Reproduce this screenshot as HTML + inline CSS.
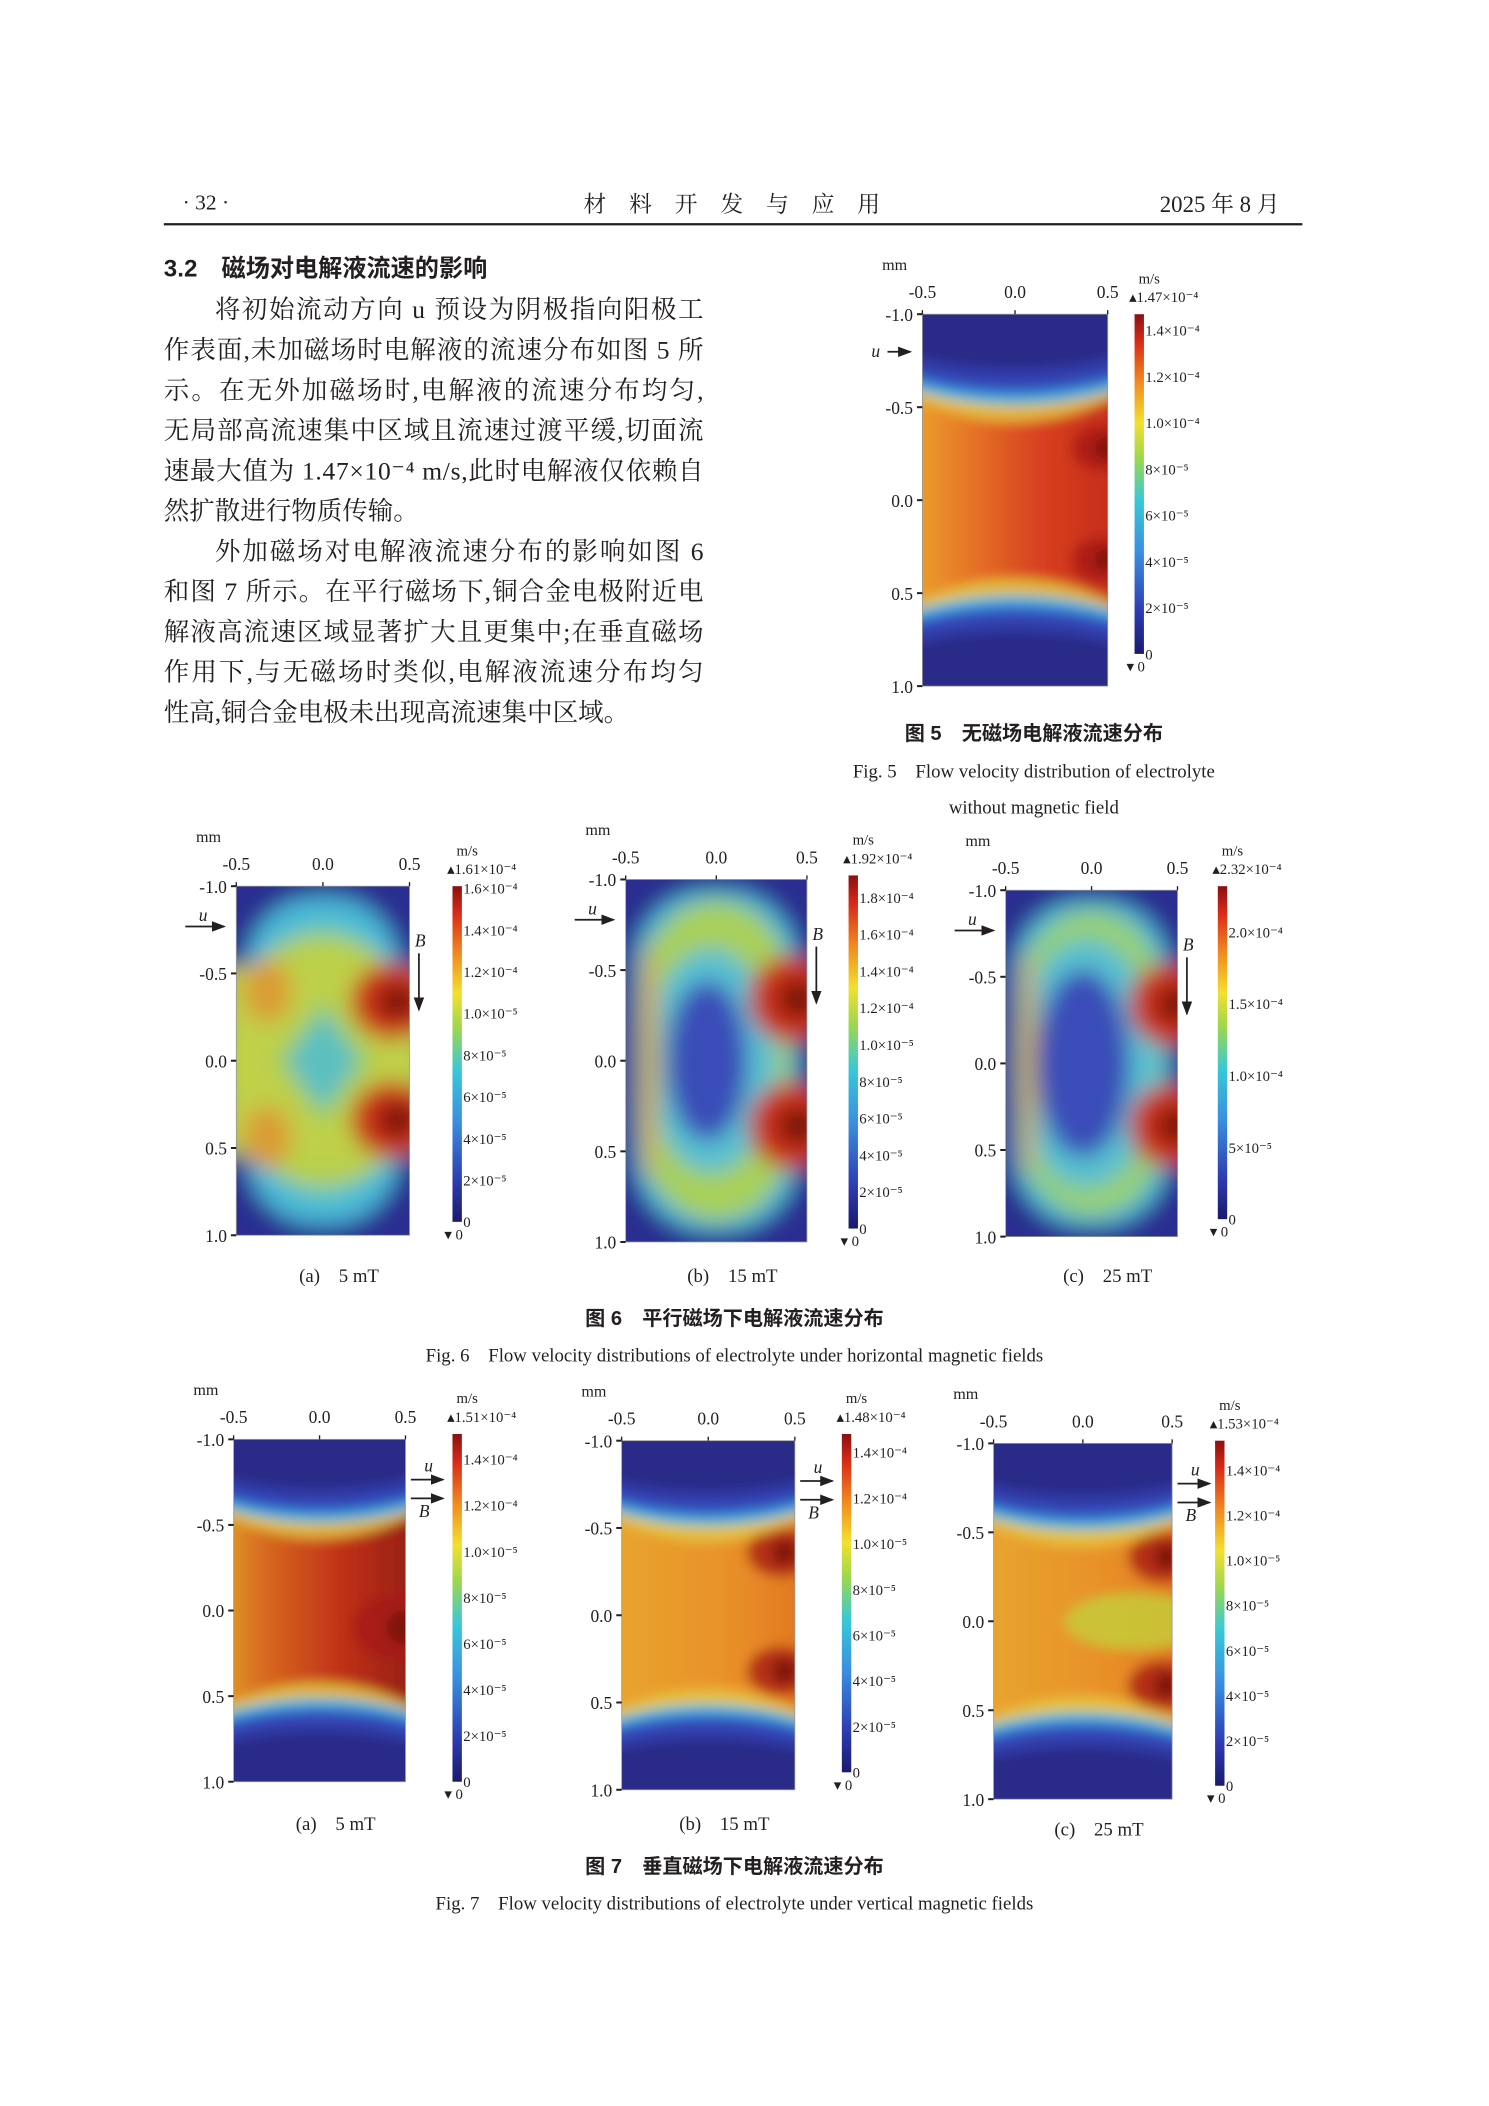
<!DOCTYPE html>
<html><head><meta charset="utf-8"><style>
html,body{margin:0;padding:0;background:#fff;}
svg{display:block;}
text{font-family:"Liberation Serif","Noto Serif CJK SC","Noto Sans CJK SC",serif;fill:#231f20;}
.cn{font-family:"Liberation Serif","Noto Serif CJK SC",serif;}
.hd{font-family:"Liberation Sans","Noto Sans CJK SC",sans-serif;font-weight:bold;}
</style></head><body>
<svg id="page" width="1489" height="2106" viewBox="0 0 1109 1568.5" xmlns="http://www.w3.org/2000/svg">
<defs>
<linearGradient id="jet" x1="0" y1="1" x2="0" y2="0">
<stop offset="0" stop-color="#1a1a6e"/><stop offset="0.12" stop-color="#2d3ab0"/><stop offset="0.3" stop-color="#3a8fe0"/>
<stop offset="0.45" stop-color="#38c8d8"/><stop offset="0.58" stop-color="#9fd84a"/><stop offset="0.68" stop-color="#f2e030"/>
<stop offset="0.8" stop-color="#f08a20"/><stop offset="0.92" stop-color="#d82a18"/><stop offset="1" stop-color="#8a1010"/>
</linearGradient>
<linearGradient id="midNF" x1="0" y1="0" x2="1" y2="0"><stop offset="0" stop-color="#e8b030"/><stop offset="0.25" stop-color="#e88028"/><stop offset="0.6" stop-color="#d84020"/><stop offset="1" stop-color="#c02818"/></linearGradient>
<linearGradient id="midNF7a" x1="0" y1="0" x2="1" y2="0"><stop offset="0" stop-color="#e0b030"/><stop offset="0.25" stop-color="#d86a20"/><stop offset="0.6" stop-color="#c03018"/><stop offset="1" stop-color="#8a1c14"/></linearGradient>
<linearGradient id="midNF2" x1="0" y1="0" x2="1" y2="0"><stop offset="0" stop-color="#e8a830"/><stop offset="0.6" stop-color="#e89028"/><stop offset="1" stop-color="#e07020"/></linearGradient>
<filter id="bl" x="-20%" y="-20%" width="140%" height="140%"><feGaussianBlur stdDeviation="8"/></filter>
<filter id="bl2" x="-20%" y="-20%" width="140%" height="140%"><feGaussianBlur stdDeviation="4.5"/></filter>
<marker id="ah" markerWidth="8" markerHeight="6" refX="7" refY="3" orient="auto"><path d="M0,0 L8,3 L0,6 z" fill="#231f20"/></marker>
</defs>
<g id="root"></g>
</svg>
<script>
const NS='http://www.w3.org/2000/svg';
const root=document.getElementById('root');
function el(tag,attrs,parent,txt){const e=document.createElementNS(NS,tag);for(const k in attrs)e.setAttribute(k,attrs[k]);if(txt!==undefined)e.textContent=txt;(parent||root).appendChild(e);return e;}

let t;
t=el('text',{x:136,y:156,'font-size':16},root,'· 32 ·');

t=el('text',{x:545,y:158,'font-size':17,'text-anchor':'middle','class':'cn'},root,'材　料　开　发　与　应　用');

t=el('text',{x:953,y:158,'font-size':17,'text-anchor':'end','class':'cn'},root,'2025 年 8 月');

t=el('line',{x1:122,y1:167,x2:970,y2:167,stroke:'#231f20','stroke-width':1.6});


t=el('text',{x:122,y:206,'font-size':18,'class':'hd'},root,'3.2　磁场对电解液流速的影响');

const lines=[
['将初始流动方向 u 预设为阴极指向阳极工',160],['作表面,未加磁场时电解液的流速分布如图 5 所',122],
['示。在无外加磁场时,电解液的流速分布均匀,',122],['无局部高流速集中区域且流速过渡平缓,切面流',122],
['速最大值为 1.47×10⁻⁴ m/s,此时电解液仅依赖自',122],['然扩散进行物质传输。',122,1],
['外加磁场对电解液流速分布的影响如图 6',160],['和图 7 所示。在平行磁场下,铜合金电极附近电',122],
['解液高流速区域显著扩大且更集中;在垂直磁场',122],['作用下,与无磁场时类似,电解液流速分布均匀',122],
['性高,铜合金电极未出现高流速集中区域。',122,1]];
lines.forEach((l,i)=>{const a={x:l[1],y:237+i*30,'font-size':19,'class':'cn'};
 if(!l[2]){a.textLength=524-l[1];a.lengthAdjust='spacing';}
 const e=el('text',a,root,l[0]);
 });

const xTicks=[-0.5,0,0.5];
const xTickLabels=['-0.5','0.0','0.5'];
const yTicks=[-1,-0.5,0,0.5,1];
const yTickLabels=['-1.0','-0.5','0.0','0.5','1.0'];
const cbMax5=1.47, cbVals5=[1.4,1.2,1.0,0.8,0.6,0.4,0.2,0];
const cbLab5=['1.4×10⁻⁴','1.2×10⁻⁴','1.0×10⁻⁴','8×10⁻⁵','6×10⁻⁵','4×10⁻⁵','2×10⁻⁵','0'];
const cbMax6a=1.61, cbVals6a=[1.6,1.4,1.2,1.0,0.8,0.6,0.4,0.2,0];
const cbLab6a=['1.6×10⁻⁴','1.4×10⁻⁴','1.2×10⁻⁴','1.0×10⁻⁵','8×10⁻⁵','6×10⁻⁵','4×10⁻⁵','2×10⁻⁵','0'];
const cbMax6b=1.92, cbVals6b=[1.8,1.6,1.4,1.2,1.0,0.8,0.6,0.4,0.2,0];
const cbLab6b=['1.8×10⁻⁴','1.6×10⁻⁴','1.4×10⁻⁴','1.2×10⁻⁴','1.0×10⁻⁵','8×10⁻⁵','6×10⁻⁵','4×10⁻⁵','2×10⁻⁵','0'];
const cbMax6c=2.32, cbVals6c=[2.0,1.5,1.0,0.5,0];
const cbLab6c=['2.0×10⁻⁴','1.5×10⁻⁴','1.0×10⁻⁴','5×10⁻⁵','0'];
const cbMax7a=1.51, cbVals7a=[1.4,1.2,1.0,0.8,0.6,0.4,0.2,0];
const cbLab7a=['1.4×10⁻⁴','1.2×10⁻⁴','1.0×10⁻⁵','8×10⁻⁵','6×10⁻⁵','4×10⁻⁵','2×10⁻⁵','0'];
const cbMax7b=1.48, cbVals7b=cbVals7a, cbLab7b=cbLab7a;
const cbMax7c=1.53, cbVals7c=cbVals7a, cbLab7c=cbLab7a;

const panels=[
{id:'fig5',x0:687,x1:825,y0:234,y1:511,cx:845,cy0:234,cy1:487,max:cbMax5,vals:cbVals5,labs:cbLab5,top:'1.47×10⁻⁴',type:'nf',mid:'midNF',spots:[[0.97,0.36,0.12],[0.97,0.66,0.12]],arrow:'u',cap:null},
{id:'fig6a',x0:176,x1:305,y0:660,y1:920,cx:337,cy0:660,cy1:910,max:cbMax6a,vals:cbVals6a,labs:cbLab6a,top:'1.61×10⁻⁴',type:'a',spots:[[0.9,0.33],[0.9,0.67]],arrow:'hB',cap:'(a)　5 mT'},
{id:'fig6b',x0:466,x1:601,y0:655,y1:925,cx:632,cy0:652,cy1:915,max:cbMax6b,vals:cbVals6b,labs:cbLab6b,top:'1.92×10⁻⁴',type:'b',spots:[[0.92,0.33],[0.92,0.68]],arrow:'hB',cap:'(b)　15 mT'},
{id:'fig6c',x0:749,x1:877,y0:663,y1:921,cx:907,cy0:660,cy1:908,max:cbMax6c,vals:cbVals6c,labs:cbLab6c,top:'2.32×10⁻⁴',type:'c',spots:[[0.96,0.33],[0.96,0.68]],arrow:'hB',cap:'(c)　25 mT'},
{id:'fig7a',x0:174,x1:302,y0:1072,y1:1327,cx:337,cy0:1068,cy1:1327,max:cbMax7a,vals:cbVals7a,labs:cbLab7a,top:'1.51×10⁻⁴',type:'nf',mid:'midNF7a',spots:[[0.97,0.55,0.2]],arrow:'vB',cap:'(a)　5 mT'},
{id:'fig7b',x0:463,x1:592,y0:1073,y1:1333,cx:627,cy0:1068,cy1:1320,max:cbMax7b,vals:cbVals7b,labs:cbLab7b,top:'1.48×10⁻⁴',type:'nf',mid:'midNF2',spots:[[0.92,0.32,0.14],[0.92,0.66,0.14]],arrow:'vB',cap:'(b)　15 mT'},
{id:'fig7c',x0:740,x1:873,y0:1075,y1:1340,cx:905,cy0:1073,cy1:1330,max:cbMax7c,vals:cbVals7c,labs:cbLab7c,top:'1.53×10⁻⁴',type:'nf',mid:'midNF2',band:1,spots:[[0.95,0.32,0.14],[0.95,0.68,0.14]],arrow:'vB',cap:'(c)　25 mT'}
];

panels.forEach(p=>{
 const g=el('g',{});
 
 const w=p.x1-p.x0,h=p.y1-p.y0;
 const xs=v=>p.x0+(v+0.5)*w, ys=v=>p.y0+(v+1)/2*h;
 const clip=el('clipPath',{id:'c_'+p.id},g);el('rect',{x:p.x0,y:p.y0,width:w,height:h},clip);
 const hm=el('g',{'clip-path':'url(#c_'+p.id+')'},g);
 
 const B=el('g',{filter:p.type==='nf'?'url(#bl2)':'url(#bl)'},hm);
 const ell=(fx,fy,rx,ry,f,op)=>el('ellipse',{cx:p.x0+fx*w,cy:p.y0+fy*h,rx:rx*w,ry:ry*h,fill:f,opacity:op||1},B);
 const rr=(ix,iy,r,f)=>el('rect',{x:p.x0+ix*w,y:p.y0+iy*h,width:w*(1-2*ix),height:h*(1-2*iy),rx:r*w,fill:f},B);
 if(p.type==='nf'){
  el('rect',{x:p.x0-20,y:p.y0-20,width:w+40,height:h+40,fill:'url(#'+p.mid+')'},B);
  if(p.band) ell(0.8,0.5,0.4,0.08,'#c8c838',0.9);
  p.spots.forEach(s=>{ell(s[0],s[1],s[2]*1.4,s[2]*0.5,'#a81a14',0.8);ell(s[0]+0.02,s[1],s[2]*0.5,s[2]*0.25,'#701010',0.8);});
  [-0.35,1.35].forEach(cy=>{
   ell(0.5,cy,1.2,0.64,'#e4c840',0.85);
   ell(0.5,cy,1.5,0.595,'#50c4dc');
   ell(0.5,cy,1.5,0.575,'#3a78d4');
   ell(0.5,cy,1.5,0.55,'#3040b0');
   ell(0.5,cy,1.5,0.5,'#2a2a88');
  });
 } else {
  el('rect',{x:p.x0-20,y:p.y0-20,width:w+40,height:h+40,fill:'#2a2f90'},B);
  if(p.type==='a'){
   rr(0.06,0.03,0.4,'#4ab8d8');
   rr(0.12,0.1,0.45,'#60c8c0');
   ell(0.5,0.5,0.6,0.36,'#b8d048');
   el('rect',{x:p.x0-10,y:p.y0+0.23*h,width:w+20,height:0.54*h,fill:'#c0d048'},B);
   ell(0.18,0.3,0.14,0.09,'#e09030',0.8);ell(0.18,0.72,0.14,0.09,'#e09030',0.8);
   el('polygon',{points:[[0.5,0.3],[0.8,0.5],[0.5,0.7],[0.2,0.5]].map(q=>(p.x0+q[0]*w)+','+(p.y0+q[1]*h)).join(' '),fill:'#a8d050'},B);
   el('polygon',{points:[[0.5,0.35],[0.72,0.5],[0.5,0.65],[0.28,0.5]].map(q=>(p.x0+q[0]*w)+','+(p.y0+q[1]*h)).join(' '),fill:'#5cc0c0'},B);
   p.spots.forEach(s=>{ell(s[0],s[1],0.24,0.11,'#c83018');ell(s[0]+0.03,s[1],0.1,0.045,'#6a0a0a');});
  } else {
   const blueR = p.type==='b'?[0.22,0.22]:[0.27,0.27];
   rr(0.05,0.03,0.4,'#48b8d8');
   rr(0.1,0.06,0.45,p.type==='b'?'#a8d058':'#98d070');
   ell(0.47,0.5,blueR[0]+0.14,blueR[1]+0.09,'#58c0d0');
   ell(0.13,0.5,0.06,0.33,'#e0a040',0.75);
   ell(0.45,0.5,blueR[0],blueR[1],'#3a4eb8');
   p.spots.forEach(s=>{ell(s[0],s[1],0.24,0.12,'#c83018');ell(s[0]+0.03,s[1],0.1,0.05,'#6a0a0a');});
  }
 }
 el('rect',{x:p.x0,y:p.y0,width:w,height:h,fill:'none',stroke:'#999','stroke-width':0.6},g);
 const mm=el('text',{x:p.x0-30,y:p.y0-33,'font-size':12},g,'mm');
 
 xTicks.forEach((v,i)=>{
  const e=el('text',{x:xs(v),y:p.y0-12,'font-size':13,'text-anchor':'middle'},g,xTickLabels[i]);
  
  el('line',{x1:xs(v),y1:p.y0,x2:xs(v),y2:p.y0-3,stroke:'#231f20'},g);
 });
 yTicks.forEach((v,i)=>{
  const e=el('text',{x:p.x0-7,y:ys(v)+5,'font-size':13,'text-anchor':'end'},g,yTickLabels[i]);
  
  el('line',{x1:p.x0-4,y1:ys(v),x2:p.x0,y2:ys(v),stroke:'#231f20','stroke-width':1.5},g);
 });
 const cb=el('rect',{x:p.cx,y:p.cy0,width:7,height:p.cy1-p.cy0,fill:'url(#jet)'},g);
 
 const cs=v=>p.cy1-v/p.max*(p.cy1-p.cy0);
 const mu=el('text',{x:p.cx+3,y:p.cy0-23,'font-size':11},g,'m/s');
 
 const tp=el('text',{x:p.cx-4,y:p.cy0-9,'font-size':11},g,'▴'+p.top);
 
 p.vals.forEach((v,i)=>{
  const e=el('text',{x:p.cx+8,y:cs(v)+4,'font-size':11},g,p.labs[i]);
  
 });
 const mn=el('text',{x:p.cx-6,y:p.cy1+13,'font-size':11},g,'▾ 0');
 
 if(p.arrow==='u'||p.arrow==='hB'){
  const ax=p.x0-38, ay=p.arrow==='u'?p.y0+28:p.y0+30;
  const ut=el('text',{x:ax+(p.arrow==='u'?0:10),y:ay-(p.arrow==='u'?-4:4),'font-size':13,'font-style':'italic'},g,'u');
  
  el('line',{x1:ax+(p.arrow==='u'?12:0),y1:ay,x2:p.x0-9,y2:ay,stroke:'#231f20','stroke-width':1.3,'marker-end':'url(#ah)'},g);
 }
 if(p.arrow==='hB'){
  const bx=p.x1+7;
  const bt=el('text',{x:bx+1,y:p.y0+45,'font-size':13,'font-style':'italic','text-anchor':'middle'},g,'B');
  
  el('line',{x1:bx,y1:p.y0+50,x2:bx,y2:p.y0+92,stroke:'#231f20','stroke-width':1.3,'marker-end':'url(#ah)'},g);
 }
 if(p.arrow==='vB'){
  const bx=p.x1+4, by=p.y0+30;
  const ut=el('text',{x:bx+10,y:by-6,'font-size':13,'font-style':'italic'},g,'u');
  
  el('line',{x1:bx,y1:by,x2:bx+24,y2:by,stroke:'#231f20','stroke-width':1.3,'marker-end':'url(#ah)'},g);
  el('line',{x1:bx,y1:by+14,x2:bx+24,y2:by+14,stroke:'#231f20','stroke-width':1.3,'marker-end':'url(#ah)'},g);
  const bt=el('text',{x:bx+6,y:by+28,'font-size':13,'font-style':'italic'},g,'B');
  
 }
 if(p.cap){
  const c=el('text',{x:(p.x0+p.x1)/2+12,y:p.id.startsWith('fig6')?955:(p.id==='fig7c'?1367:1363),'font-size':14,'text-anchor':'middle'},g,p.cap);
  
 }
});

const caps=[
['图 5　无磁场电解液流速分布',770,551,15,'hd'],
['Fig. 5　Flow velocity distribution of electrolyte',770,579,14,''],
['without magnetic field',770,606,14,''],
['图 6　平行磁场下电解液流速分布',547,987,15,'hd'],
['Fig. 6　Flow velocity distributions of electrolyte under horizontal magnetic fields',547,1014,14,''],
['图 7　垂直磁场下电解液流速分布',547,1395,15,'hd'],
['Fig. 7　Flow velocity distributions of electrolyte under vertical magnetic fields',547,1422,14,'']];
caps.forEach(c=>{const a={x:c[1],y:c[2],'font-size':c[3],'text-anchor':'middle'};if(c[4])a['class']=c[4];
 const e=el('text',a,root,c[0]);});
</script>
</body></html>
